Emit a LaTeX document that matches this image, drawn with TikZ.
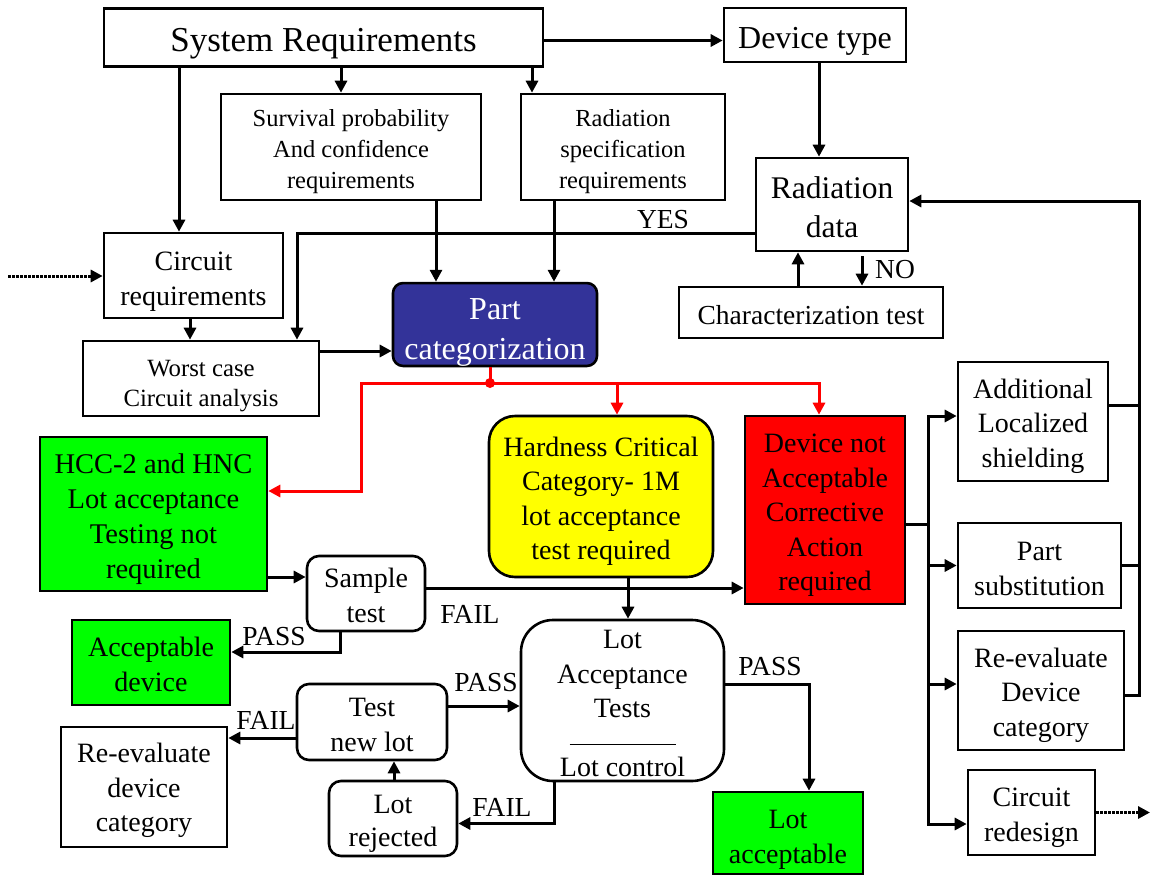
\documentclass[tikz,border=0pt]{standalone}
\usepackage{fontspec}
\setmainfont{Liberation Serif}
\usetikzlibrary{arrows.meta,positioning,calc}
\definecolor{catblue}{HTML}{333399}
\definecolor{accgreen}{HTML}{00FF00}
\definecolor{hardyellow}{HTML}{FFFF00}
\definecolor{badred}{HTML}{FF0000}
% invisible strut that lowers the first line of a box
\newcommand{\sink}[1]{\rule{0pt}{#1pt}}
\tikzset{
  box/.style={draw, line width=2.6pt, align=center, inner sep=0pt,
              font=\fontsize{28}{34.5}\selectfont},
  rbox/.style={box, rounded corners=12pt},
  flow/.style={-{Triangle[length=12pt,width=12pt]}, line width=3pt},
  redflow/.style={flow, draw=badred},
  link/.style={line width=3pt},
  dotflow/.style={flow, dash pattern=on 2.5pt off 1.5pt},
  lbl/.style={font=\fontsize{27.5}{30}\selectfont, inner sep=0pt}
}
\begin{document}
\begin{tikzpicture}[x=1pt,y=-1pt]
  \useasboundingbox (0,0) rectangle (1152,876);
  % requirements row
  \node[box, minimum width=439pt, minimum height=58pt, font=\fontsize{35}{40}\selectfont] (sysreq) at (323.5,37.5) {\sink{36}System Requirements};
  \node[box, minimum width=182pt, minimum height=54pt, font=\fontsize{32}{38}\selectfont] (devtype) at (815,35) {\sink{34}Device type};
  \node[box, minimum width=260pt, minimum height=106pt, font=\fontsize{24.5}{31}\selectfont] (surv) at (351,147) {\sink{27}Survival probability\\And confidence\\requirements};
  \node[box, minimum width=204pt, minimum height=106pt, font=\fontsize{24.5}{31}\selectfont] (radspec) at (623,147) {\sink{27}Radiation\\specification\\requirements};
  \node[box, minimum width=152pt, minimum height=93pt, font=\fontsize{31.5}{39}\selectfont] (raddata) at (832,204.5) {\sink{27.5}Radiation\\data};
  \node[box, minimum width=264pt, minimum height=51pt, font=\fontsize{27.5}{33}\selectfont] (chartest) at (811,312.5) {\sink{25}Characterization test};
  \node[box, minimum width=179pt, minimum height=85pt] (circreq) at (193.5,275.5) {\sink{31}Circuit\\requirements};
  \node[box, minimum width=236pt, minimum height=75pt, font=\fontsize{24.8}{30}\selectfont] (worst) at (201,378.5) {\sink{31}Worst case\\Circuit analysis};
  \node[rbox, rounded corners=10pt, fill=catblue, text=white, minimum width=204pt, minimum height=75pt, font=\fontsize{32}{40}\selectfont] (partcat) at (495,324.5) {\sink{36}Part\\categorization};
  % categories
  \node[box, fill=accgreen, minimum width=227pt, minimum height=154pt, font=\fontsize{28.5}{35}\selectfont] (hcc) at (153.5,514) {\sink{29.5}HCC-2 and HNC\\Lot acceptance\\Testing not\\required};
  \node[box, rounded corners=26pt, fill=hardyellow, minimum width=224pt, minimum height=161pt] (hcm) at (601,496.5) {\sink{29}Hardness Critical\\Category- 1M\\lot acceptance\\test required};
  \node[box, fill=badred, minimum width=160pt, minimum height=188pt] (notacc) at (825,510) {\sink{29}Device not\\Acceptable\\Corrective\\Action\\required};
  % testing
  \node[rbox, minimum width=118pt, minimum height=75pt] (sample) at (366,593.5) {\sink{23}Sample\\test};
  \node[box, fill=accgreen, minimum width=158pt, minimum height=85pt, font=\fontsize{28}{35}\selectfont] (accdev) at (151,662.5) {\sink{23}Acceptable\\device};
  \node[rbox, minimum width=150pt, minimum height=76pt, font=\fontsize{28}{35}\selectfont] (newlot) at (372,722) {\sink{25}Test\\new lot};
  \node[box, minimum width=166pt, minimum height=120pt] (reevalL) at (144,787) {\sink{27}Re-evaluate\\device\\category};
  \node[rbox, minimum width=128pt, minimum height=75pt, font=\fontsize{28}{33}\selectfont] (lotrej) at (393,818.5) {\sink{29}Lot\\rejected};
  \node[box, rounded corners=32pt, minimum width=203pt, minimum height=161pt] (lat) at (622.5,700.5) {\sink{25}Lot\\Acceptance\\Tests\\[-10pt]\rule[-3pt]{106pt}{1.1pt}\\Lot control};
  \node[box, fill=accgreen, minimum width=150pt, minimum height=82pt, font=\fontsize{28}{35}\selectfont] (lotacc) at (788,833) {\sink{31}Lot\\acceptable};
  % corrective actions
  \node[box, minimum width=150pt, minimum height=119pt] (addshield) at (1033,421.5) {\sink{29}Additional\\Localized\\shielding};
  \node[box, minimum width=163pt, minimum height=85pt] (partsub) at (1039.5,565.5) {\sink{25}Part\\substitution};
  \node[box, minimum width=166pt, minimum height=119pt] (reevalR) at (1041,690.5) {\sink{29}Re-evaluate\\Device\\category};
  \node[box, minimum width=127pt, minimum height=85pt] (redesign) at (1031.5,812.5) {\sink{29}Circuit\\redesign};
  % labels
  \node[lbl] (yes) at (663,220) {YES};
  \node[lbl] (no) at (895,270) {NO};
  \node[lbl] (failS) at (470,614) {FAIL};
  \node[lbl] (passS) at (274,637) {PASS};
  \node[lbl] (passN) at (486,683) {PASS};
  \node[lbl] (failN) at (266,720) {FAIL};
  \node[lbl] (failL) at (502,807) {FAIL};
  \node[lbl] (passL) at (770,667) {PASS};
  % helper points
  \coordinate (inL) at (8,276);
  \coordinate (outR) at (1150,812);
  \coordinate (rsplit) at (490,383);
  \coordinate (rleft) at (361,383);
  \coordinate (bustop) at (928,416);
  \coordinate (busbot) at (928,824);
  \coordinate (fbx) at (1139,201);
  % top flows
  \draw[flow] ([yshift=-3pt]sysreq.east) -- ([yshift=-3pt]sysreq.east -| devtype.west);
  \draw[flow] ([xshift=-14.5pt]circreq.north |- sysreq.south) -- ([xshift=-14.5pt]circreq.north);
  \draw[flow] ([xshift=-10pt]surv.north |- sysreq.south) -- ([xshift=-10pt]surv.north);
  \draw[flow] ([xshift=-91pt]radspec.north |- sysreq.south) -- ([xshift=-91pt]radspec.north);
  \draw[flow] ([xshift=4pt]devtype.south) -- ([xshift=4pt]devtype.south |- raddata.north);
  \draw[flow] ([xshift=85pt]surv.south) -- ([xshift=85pt]surv.south |- partcat.north);
  \draw[flow] ([xshift=-69pt]radspec.south) -- ([xshift=-69pt]radspec.south |- partcat.north);
  \draw[flow] ([yshift=-28.5pt]raddata.west) -| ([xshift=96pt]worst.north);
  \draw[flow] ([xshift=-13pt]chartest.north) -- ([xshift=-13pt]chartest.north |- raddata.south);
  \draw[flow] ([xshift=30pt,yshift=-4pt]raddata.south) -- ([xshift=30pt]raddata.south |- chartest.north);
  \draw[flow] ([xshift=-3.5pt]circreq.south) -- ([xshift=-3.5pt]circreq.south |- worst.north);
  \draw[flow] ([yshift=27.5pt]worst.east) -- ([yshift=27.5pt]worst.east -| partcat.west);
  \draw[dotflow] (inL) -- (inL -| circreq.west);
  % categorization split
  \draw[redflow] (partcat.south -| rsplit) -- (rsplit) -- (rleft) |- ([yshift=23pt]hcc.east);
  \draw[redflow] (rsplit) -| ([xshift=16pt]hcm.north);
  \draw[redflow] (rsplit) -| ([xshift=-6pt]notacc.north);
  \fill[badred] (rsplit) circle (5pt);
  % sample and lot tests
  \draw[flow] ([yshift=-63pt]hcc.east) -- ([yshift=-63pt]hcc.east -| sample.west);
  \draw[flow] ([yshift=5.5pt]sample.east) -- ([yshift=5.5pt]sample.east -| notacc.west);
  \draw[flow] ([xshift=-26pt]sample.south) |- ([yshift=10.5pt]accdev.east);
  \draw[flow] ([xshift=27pt]hcm.south) -- ([xshift=27pt]hcm.south |- lat.north);
  \draw[flow] ([yshift=16.5pt]lat.east) -| ([xshift=21pt]lotacc.north);
  \draw[flow] ([xshift=-68.5pt]lat.south) |- ([yshift=-5pt]lotrej.east);
  \draw[flow] ([xshift=1pt]lotrej.north) -- ([xshift=1pt]lotrej.north |- newlot.south);
  \draw[flow] ([yshift=16pt]newlot.east) -- ([yshift=16pt]newlot.east -| lat.west);
  \draw[flow] ([yshift=-16pt]newlot.west) -- ([yshift=-16pt]newlot.west -| reevalL.east);
  % corrective action bus
  \draw[link] ([yshift=-14pt]notacc.east) -- ([yshift=-14pt]notacc.east -| bustop);
  \draw[flow] (busbot) -- (bustop) -- (bustop -| addshield.west);
  \draw[flow] (bustop) -- (busbot) -- (busbot -| redesign.west);
  \draw[flow] (bustop |- partsub.west) -- (partsub.west);
  \draw[flow] ([yshift=6.5pt]reevalR.west -| bustop) -- ([yshift=6.5pt]reevalR.west);
  % feedback to radiation data
  \draw[link] ([yshift=16.5pt]addshield.east) -- ([yshift=16.5pt]addshield.east -| fbx);
  \draw[link] (partsub.east) -- (partsub.east -| fbx);
  \draw[flow] ([yshift=-4.5pt]reevalR.east) -| (fbx) -- (fbx -| raddata.east);
  \draw[dotflow] (redesign.east) -- (redesign.east -| outR);
\end{tikzpicture}
\end{document}
